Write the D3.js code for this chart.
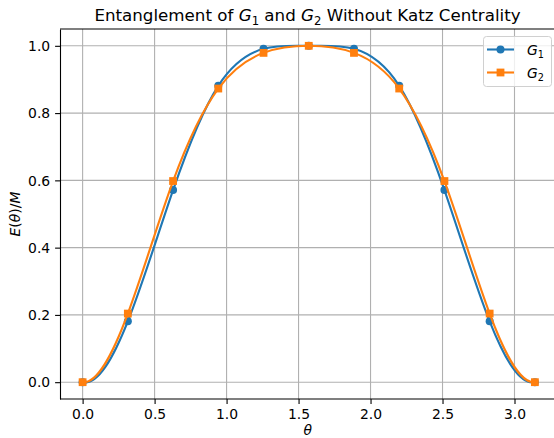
<!DOCTYPE html>
<html>
<head>
<meta charset="utf-8">
<script src="https://cdn.jsdelivr.net/npm/d3@7"></script>
<style>
  html, body { margin: 0; padding: 0; background: #fff; overflow: hidden; }
  svg { display: block; font-family: "DejaVu Sans", sans-serif; }
</style>
</head>
<body>
<div id="chart"></div>
<script>
// theta = k*pi/10, k = 0..10
const thetas = d3.range(11).map((k) => (k * Math.PI) / 10);
const g1Values = [0, 0.181, 0.571, 0.881, 0.991, 1.0, 0.991, 0.881, 0.571, 0.181, 0];
const g2Values = [0, 0.204, 0.598, 0.873, 0.979, 1.0, 0.979, 0.873, 0.598, 0.204, 0];
const xTicks = [0, 0.5, 1.0, 1.5, 2.0, 2.5, 3.0];
const yTicks = [0, 0.2, 0.4, 0.6, 0.8, 1.0];

const width = 554;
const height = 438;
const margin = { top: 29, right: -3.5, bottom: 39, left: 60 };
const innerWidth = width - margin.left - margin.right;
const innerHeight = height - margin.top - margin.bottom;
const visibleWidth = width - margin.left; // the plot's right edge sits just past the picture
const fontSize = 13.9;

const xPad = 0.05 * Math.PI;
const xScale = d3.scaleLinear().domain([-xPad, Math.PI + xPad]).range([0, innerWidth]);
const yScale = d3.scaleLinear().domain([-0.05, 1.05]).range([innerHeight, 0]);

// not-a-knot cubic spline as a d3 curve (points already in pixel space)
function curveSpline(context) {
  let xs, ys;
  return {
    areaStart() {},
    areaEnd() {},
    lineStart() { xs = []; ys = []; },
    point(x, y) { xs.push(+x); ys.push(+y); },
    lineEnd() {
      const n = xs.length;
      if (!n) return;
      context.moveTo(xs[0], ys[0]);
      if (n < 4) { for (let i = 1; i < n; i++) context.lineTo(xs[i], ys[i]); return; }
      const h = d3.range(n - 1).map((i) => xs[i + 1] - xs[i]);
      // dense system for second derivatives
      const A = d3.range(n).map(() => new Array(n).fill(0));
      const b = new Array(n).fill(0);
      A[0][0] = h[1]; A[0][1] = -(h[0] + h[1]); A[0][2] = h[0];
      A[n - 1][n - 3] = h[n - 2]; A[n - 1][n - 2] = -(h[n - 3] + h[n - 2]); A[n - 1][n - 1] = h[n - 3];
      for (let i = 1; i < n - 1; i++) {
        A[i][i - 1] = h[i - 1];
        A[i][i] = 2 * (h[i - 1] + h[i]);
        A[i][i + 1] = h[i];
        b[i] = 6 * ((ys[i + 1] - ys[i]) / h[i] - (ys[i] - ys[i - 1]) / h[i - 1]);
      }
      // gaussian elimination with partial pivoting
      for (let c = 0; c < n; c++) {
        let p = c;
        for (let r = c + 1; r < n; r++) if (Math.abs(A[r][c]) > Math.abs(A[p][c])) p = r;
        [A[c], A[p]] = [A[p], A[c]]; [b[c], b[p]] = [b[p], b[c]];
        for (let r = c + 1; r < n; r++) {
          const f = A[r][c] / A[c][c];
          for (let k = c; k < n; k++) A[r][k] -= f * A[c][k];
          b[r] -= f * b[c];
        }
      }
      const M = new Array(n).fill(0);
      for (let r = n - 1; r >= 0; r--) {
        let s = b[r];
        for (let k = r + 1; k < n; k++) s -= A[r][k] * M[k];
        M[r] = s / A[r][r];
      }
      for (let i = 0; i < n - 1; i++) {
        const hi = h[i];
        const d = (ys[i + 1] - ys[i]) / hi;
        const m0 = d - (hi * (2 * M[i] + M[i + 1])) / 6;
        const m1 = d + (hi * (M[i] + 2 * M[i + 1])) / 6;
        context.bezierCurveTo(
          xs[i] + hi / 3, ys[i] + (m0 * hi) / 3,
          xs[i + 1] - hi / 3, ys[i + 1] - (m1 * hi) / 3,
          xs[i + 1], ys[i + 1]
        );
      }
    },
  };
}

const svg = d3.select("#chart").append("svg")
  .attr("width", width)
  .attr("height", height);

svg.append("text")
  .attr("x", 307.5)
  .attr("y", 21)
  .attr("text-anchor", "middle")
  .style("font-size", "16.7px")
  .style("fill", "#000")
  .html('Entanglement of <tspan font-style="italic">G</tspan><tspan font-size="11.7px" dy="3.5">1</tspan><tspan dy="-3.5"> and </tspan><tspan font-style="italic">G</tspan><tspan font-size="11.7px" dy="3.5">2</tspan><tspan dy="-3.5"> Without Katz Centrality</tspan>');

const g = svg.append("g").attr("transform", `translate(${margin.left},${margin.top})`);

// grid
xTicks.forEach((t) => {
  g.append("line")
    .attr("x1", xScale(t)).attr("x2", xScale(t))
    .attr("y1", 0).attr("y2", innerHeight)
    .attr("stroke", "#b0b0b0").attr("stroke-width", 1.1);
});
yTicks.forEach((t) => {
  g.append("line")
    .attr("x1", 0).attr("x2", visibleWidth)
    .attr("y1", yScale(t)).attr("y2", yScale(t))
    .attr("stroke", "#b0b0b0").attr("stroke-width", 1.1);
});

// axes
const xAxis = g.append("g")
  .attr("transform", `translate(0,${innerHeight})`)
  .call(d3.axisBottom(xScale).tickValues(xTicks).tickFormat(d3.format(".1f"))
    .tickSize(4.9).tickSizeOuter(0).tickPadding(4.9));
const yAxis = g.append("g")
  .call(d3.axisLeft(yScale).tickValues(yTicks).tickFormat(d3.format(".1f"))
    .tickSize(4.9).tickSizeOuter(0).tickPadding(4.9));
[xAxis, yAxis].forEach((ax) => {
  ax.attr("font-size", fontSize).attr("font-family", "DejaVu Sans");
  ax.selectAll(".tick line").attr("stroke", "#000").attr("stroke-width", 1.1);
  ax.selectAll(".tick text").attr("fill", "#000");
});
xAxis.select(".domain").remove();
yAxis.select(".domain").attr("stroke", "#000").attr("stroke-width", 1.1);
// replace em offsets with plain pixel positions
xAxis.selectAll(".tick text").attr("dy", null).attr("y", 9.8 + 0.71 * fontSize);
yAxis.selectAll(".tick text").attr("dy", null).attr("y", 0.34 * fontSize);

// bottom and top spines, cut at the picture's edge
[0, innerHeight].forEach((y) => {
  g.append("line").attr("x1", 0).attr("x2", visibleWidth).attr("y1", y).attr("y2", y)
    .attr("stroke", "#000").attr("stroke-width", 1.1);
});

// axis labels
svg.append("text")
  .attr("x", margin.left + xScale(Math.PI / 2) - 1)
  .attr("y", 435)
  .attr("text-anchor", "middle")
  .style("font-size", fontSize + "px")
  .style("font-style", "italic")
  .text("θ");
svg.append("text")
  .attr("transform", `translate(20,${margin.top + innerHeight / 2}) rotate(-90)`)
  .attr("text-anchor", "middle")
  .style("font-size", fontSize + "px")
  .html('<tspan font-style="italic">E</tspan>(<tspan font-style="italic">θ</tspan>)/<tspan font-style="italic">M</tspan>');

const line = d3.line()
  .x((d) => xScale(d[0]))
  .y((d) => yScale(d[1]))
  .curve(curveSpline);

const series = [
  { name: "1", values: g1Values, color: "#1f77b4", marker: "circle" },
  { name: "2", values: g2Values, color: "#ff7f0e", marker: "square" },
];

function drawMarker(sel, s, x, y) {
  if (s.marker === "circle") {
    sel.append("circle").attr("cx", x).attr("cy", y).attr("r", 4).attr("fill", s.color);
  } else {
    sel.append("rect").attr("x", x - 3.9).attr("y", y - 3.9).attr("width", 7.8).attr("height", 7.8).attr("fill", s.color);
  }
}

series.forEach((s) => {
  const pts = thetas.map((t, i) => [t, s.values[i]]);
  g.append("path")
    .attr("d", line(pts))
    .attr("fill", "none")
    .attr("stroke", s.color)
    .attr("stroke-width", 2.1);
  pts.forEach((p) => drawMarker(g, s, xScale(p[0]), yScale(p[1])));
});

// legend
const legend = svg.append("g");
legend.append("rect")
  .attr("x", 483.5).attr("y", 36.5).attr("width", 68).attr("height", 50)
  .attr("rx", 3)
  .attr("fill", "rgba(255,255,255,0.8)")
  .attr("stroke", "#d0d0d0");
series.forEach((s, i) => {
  const y = 49.5 + i * 23;
  legend.append("line")
    .attr("x1", 487).attr("x2", 514).attr("y1", y).attr("y2", y)
    .attr("stroke", s.color).attr("stroke-width", 2.1);
  drawMarker(legend, s, 500.5, y);
  legend.append("text")
    .attr("x", 527).attr("y", y + 5)
    .style("font-size", fontSize + "px")
    .html(`<tspan font-style="italic">G</tspan><tspan font-size="9.7px" dy="3">${s.name}</tspan>`);
});
</script>
</body>
</html>
